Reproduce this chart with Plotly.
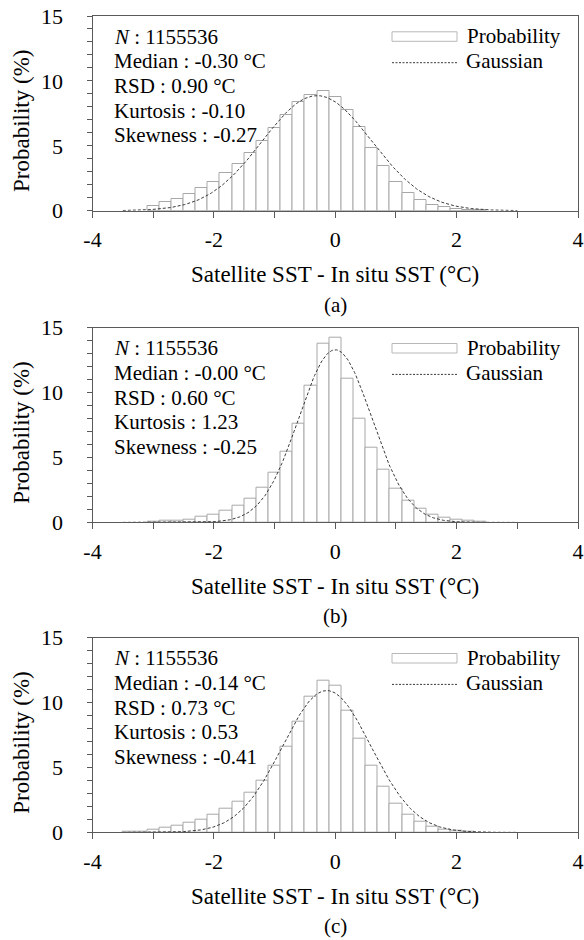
import numpy as np
import plotly.graph_objects as go

# ---- data ---------------------------------------------------------------
BIN_WIDTH = 0.2          # degC, histogram bin width
N_OBS = 1155536

centers_a = [-3.0, -2.8, -2.6, -2.4, -2.2, -2.0, -1.8, -1.6, -1.4, -1.2, -1.0, -0.8, -0.6, -0.4,
             -0.2, 0.0, 0.2, 0.4, 0.6, 0.8, 1.0, 1.2, 1.4, 1.6, 1.8, 2.0, 2.2, 2.4]
prob_a = [0.39, 0.67, 0.87, 1.28, 1.72, 2.23, 2.88, 3.57, 4.42, 5.34, 6.37, 7.34, 8.35, 8.89,
          9.19, 8.73, 7.76, 6.42, 4.80, 3.44, 2.21, 1.39, 0.82, 0.46, 0.28, 0.10, 0.05, 0.02]

centers_b = [-3.0, -2.8, -2.6, -2.4, -2.2, -2.0, -1.8, -1.6, -1.4, -1.2, -1.0, -0.8, -0.6, -0.4,
             -0.2, 0.0, 0.2, 0.4, 0.6, 0.8, 1.0, 1.2, 1.4, 1.6, 1.8, 2.0, 2.2, 2.4]
prob_b = [0.05, 0.10, 0.15, 0.23, 0.41, 0.62, 0.90, 1.26, 1.85, 2.65, 3.83, 5.42, 7.58, 10.53,
          13.76, 14.25, 11.04, 8.01, 5.75, 4.03, 2.62, 1.67, 1.03, 0.62, 0.39, 0.23, 0.10, 0.05]

centers_c = [-3.4, -3.2, -3.0, -2.8, -2.6, -2.4, -2.2, -2.0, -1.8, -1.6, -1.4, -1.2, -1.0, -0.8,
             -0.6, -0.4, -0.2, 0.0, 0.2, 0.4, 0.6, 0.8, 1.0, 1.2, 1.4, 1.6, 1.8, 2.0, 2.2]
prob_c = [0.03, 0.05, 0.23, 0.39, 0.54, 0.77, 1.00, 1.39, 1.85, 2.39, 3.08, 3.95, 5.14, 6.63,
          8.50, 10.43, 11.71, 11.30, 9.40, 7.24, 5.16, 3.54, 2.23, 1.36, 0.82, 0.46, 0.23, 0.10, 0.05]

panel_labels = ["(a)", "(b)", "(c)"]
medians = [-0.30, -0.00, -0.14]
rsds = [0.90, 0.60, 0.73]
kurtosis = [-0.10, 1.23, 0.53]
skewness = [-0.27, -0.25, -0.41]

x_ticks = [-4, -2, 0, 2, 4]
x_tick_text = ["-4", "-2", "0", "2", "4"]
y_ticks = [0, 5, 10, 15]

# ---- layout geometry (pixels) -------------------------------------------
W, H = 584, 940
PLOT_LEFT, PLOT_RIGHT = 92.5, 578.0
PANEL_TOPS = [16.0, 327.7, 637.7]
PANEL_H = 194.7

FONT = "Liberation Serif"
FRAME = "#5a5a5a"
BAR_EDGE = "#a8a8a8"
CURVE = "#3a3a3a"

fig = go.Figure()
annotations = []
shapes = []

panels = [(centers_a, prob_a), (centers_b, prob_b), (centers_c, prob_c)]
gx = np.linspace(-3.5, 3.0, 326)

for i, (centers, prob) in enumerate(panels):
    k = "" if i == 0 else str(i + 1)
    xa, ya = "x" + k, "y" + k
    top = PANEL_TOPS[i]
    bottom = top + PANEL_H
    dom_y = [1 - bottom / H, 1 - top / H]

    fig.add_trace(go.Bar(
        x=centers, y=prob, width=BIN_WIDTH, xaxis=xa, yaxis=ya,
        marker=dict(color="white", line=dict(color=BAR_EDGE, width=1)),
        showlegend=False, hoverinfo="x+y"))

    # normal curve scaled to percent per bin
    mu, sd = medians[i], rsds[i]
    gy = 100 * BIN_WIDTH * np.exp(-0.5 * ((gx - mu) / sd) ** 2) / (sd * np.sqrt(2 * np.pi))
    fig.add_trace(go.Scatter(
        x=gx, y=gy, mode="lines", xaxis=xa, yaxis=ya,
        line=dict(color=CURVE, width=1, dash="3px,2px"),
        showlegend=False, hoverinfo="skip"))

    axis_common = dict(showline=True, mirror=True, linecolor=FRAME, linewidth=1,
                       showgrid=False, zeroline=False, ticks="outside", automargin=False,
                       tickcolor=FRAME, tickfont=dict(family=FONT, size=22, color="black"))
    fig.update_layout(**{
        ("xaxis" + k): dict(axis_common, domain=[PLOT_LEFT / W, PLOT_RIGHT / W],
                             range=[-4, 4], tickvals=x_ticks, ticktext=x_tick_text, ticklen=6,
                             ticklabelstandoff=3, anchor=ya,
                             minor=dict(dtick=1, ticks="outside", ticklen=6, tickcolor=FRAME)),
        ("yaxis" + k): dict(axis_common, domain=dom_y, range=[0, 15], tickvals=y_ticks,
                             ticklen=5, ticklabelstandoff=19, anchor=xa,
                             minor=dict(dtick=1, ticks="outside", ticklen=5, tickcolor=FRAME)),
    })

    def dy(px):
        # pixel offset below panel top -> y-domain fraction
        return 1 - px / PANEL_H

    xd, yd = xa + " domain", ya + " domain"

    # statistics block
    stats = [
        f"<i>N</i> : {N_OBS}",
        f"Median : {medians[i]:.2f} °C",
        f"RSD : {rsds[i]:.2f} °C",
        f"Kurtosis : {kurtosis[i]:.2f}",
        f"Skewness : {skewness[i]:.2f}",
    ]
    line_offsets = [20.7, 45.4, 70.0, 94.5, 119.0]
    for txt, off in zip(stats, line_offsets):
        annotations.append(dict(text=txt, xref=xd, yref=yd, x=(112 - PLOT_LEFT) / (PLOT_RIGHT - PLOT_LEFT),
                                y=dy(off), xanchor="left", yanchor="middle", showarrow=False,
                                font=dict(family=FONT, size=21, color="black")))

    # legend
    lx0 = (392 - PLOT_LEFT) / (PLOT_RIGHT - PLOT_LEFT)
    lx1 = (457 - PLOT_LEFT) / (PLOT_RIGHT - PLOT_LEFT)
    shapes.append(dict(type="rect", xref=xd, yref=yd, x0=lx0, x1=lx1, y0=dy(25.3), y1=dy(15.8),
                       fillcolor="white", line=dict(color="#b8b8b8", width=1)))
    shapes.append(dict(type="line", xref=xd, yref=yd, x0=lx0, x1=lx1, y0=dy(46.7), y1=dy(46.7),
                       line=dict(color=CURVE, width=1, dash="2px,1.5px")))
    for txt, off in [("Probability", 20.3), ("Gaussian", 45.4)]:
        annotations.append(dict(text=txt, xref=xd, yref=yd, x=(464.5 - PLOT_LEFT) / (PLOT_RIGHT - PLOT_LEFT),
                                y=dy(off), xanchor="left", yanchor="middle", showarrow=False,
                                font=dict(family=FONT, size=21, color="black")))

    # axis titles and panel label
    annotations.append(dict(text="Satellite SST - In situ SST (°C)", xref="paper", yref="paper",
                            x=(PLOT_LEFT + PLOT_RIGHT) / 2 / W, y=1 - (bottom + 64) / H,
                            xanchor="center", yanchor="middle", showarrow=False,
                            font=dict(family=FONT, size=23, color="black")))
    annotations.append(dict(text=panel_labels[i], xref="paper", yref="paper",
                            x=(PLOT_LEFT + PLOT_RIGHT) / 2 / W, y=1 - (bottom + 94) / H,
                            xanchor="center", yanchor="middle", showarrow=False,
                            font=dict(family=FONT, size=21, color="black")))
    annotations.append(dict(text="Probability (%)", xref="paper", yref="paper",
                            x=22 / W, y=1 - (top + 105) / H, textangle=-90,
                            xanchor="center", yanchor="middle", showarrow=False,
                            font=dict(family=FONT, size=23, color="black")))

fig.update_layout(width=W, height=H, margin=dict(l=0, r=0, t=0, b=0, autoexpand=False),
                  paper_bgcolor="white", plot_bgcolor="white", bargap=0,
                  annotations=annotations, shapes=shapes, showlegend=False)

fig.write_html("out.html")
